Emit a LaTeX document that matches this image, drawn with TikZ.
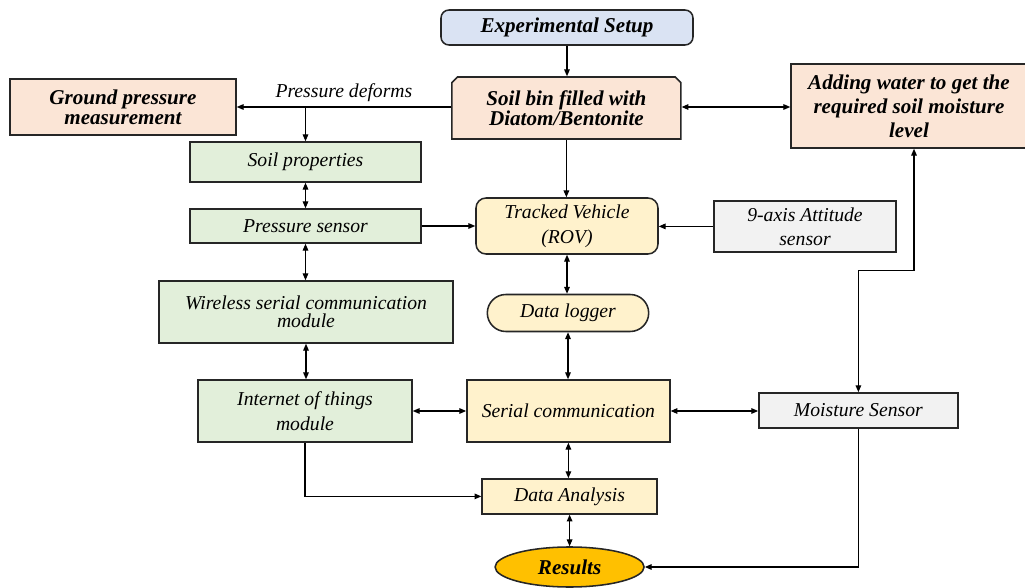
\documentclass[tikz,border=0pt]{standalone}
\usepackage{fontspec}
\setmainfont{Liberation Serif}
\usetikzlibrary{arrows.meta,shapes.misc,shapes.geometric}
\definecolor{setupblue}{HTML}{DAE3F3}
\definecolor{soilpeach}{HTML}{FBE5D6}
\definecolor{sensgreen}{HTML}{E2EFDA}
\definecolor{rovyellow}{HTML}{FFF2CC}
\definecolor{sensgray}{HTML}{F2F2F2}
\definecolor{resgold}{HTML}{FFC000}
\definecolor{edgeline}{HTML}{262626}
\tikzset{
  blk/.style={draw=edgeline, line width=1.1pt, align=center, inner sep=2pt,
    font=\fontsize{14}{15}\selectfont\itshape},
  bolder/.style={font=\fontsize{15}{14}\selectfont\bfseries\itshape},
  oneway/.style={draw=black, line width=0.8pt, -{Triangle[length=1.7mm,width=1.4mm]}},
  twoway/.style={oneway, {Triangle[length=1.7mm,width=1.4mm]}-{Triangle[length=1.7mm,width=1.4mm]}},
}

\begin{document}
\begin{tikzpicture}
  \useasboundingbox (0,0) rectangle (25.625,-14.7);
  % top row
  \node[blk, bolder, fill=setupblue, rounded corners=0.2cm, minimum width=6.3cm, minimum height=0.875cm]
    (setup) at (14.175,-0.6875) {Experimental Setup};
  \node[blk, bolder, fill=soilpeach, chamfered rectangle, chamfered rectangle corners={north west,north east},
    chamfered rectangle sep=2pt, minimum width=5.725cm, minimum height=1.55cm]
    (soilbin) at (14.16,-2.7) {Soil bin filled with\\Diatom/Bentonite};
  \node[blk, bolder, fill=soilpeach, minimum width=5.65cm, minimum height=1.4cm]
    (ground) at (3.075,-2.675) {Ground pressure\\measurement};
  \node[blk, bolder, fill=soilpeach, font=\fontsize{15}{17}\selectfont\bfseries\itshape,
    minimum width=5.9cm, minimum height=2.1cm]
    (water) at (22.725,-2.65) {Adding water to get the\\required soil moisture\\level};
  % left column
  \node[blk, fill=sensgreen, minimum width=5.775cm, minimum height=1cm] (soilprop) at (7.6375,-4.05) {Soil properties};
  \node[blk, fill=sensgreen, minimum width=5.775cm, minimum height=0.85cm] (psensor) at (7.6375,-5.65) {Pressure sensor};
  \node[blk, fill=sensgreen, font=\fontsize{14}{13}\selectfont\itshape, minimum width=7.35cm, minimum height=1.55cm]
    (wireless) at (7.65,-7.8) {Wireless serial communication\\module};
  \node[blk, fill=sensgreen, font=\fontsize{14}{18}\selectfont\itshape, minimum width=5.35cm, minimum height=1.55cm]
    (iot) at (7.625,-10.275) {Internet of things\\module};
  % middle column
  \node[blk, fill=rovyellow, rounded corners=0.25cm, font=\fontsize{14}{18}\selectfont\itshape,
    minimum width=4.55cm, minimum height=1.4cm] (rov) at (14.175,-5.65) {Tracked Vehicle\\(ROV)};
  \node[blk, fill=rovyellow, rounded rectangle, minimum width=4.175cm, minimum height=0.925cm]
    (logger) at (14.2,-7.825) {Data logger};
  \node[blk, fill=rovyellow, minimum width=5.075cm, minimum height=1.55cm] (serial) at (14.21,-10.275) {Serial communication};
  \node[blk, fill=rovyellow, minimum width=4.375cm, minimum height=0.875cm] (analysis) at (14.24,-12.41) {Data Analysis};
  \node[blk, bolder, fill=resgold, ellipse, inner sep=0pt, minimum width=3.725cm, minimum height=1cm]
    (results) at (14.24,-14.175) {Results};
  % right column
  \node[blk, fill=sensgray, font=\fontsize{14}{17}\selectfont\itshape, minimum width=4.55cm, minimum height=1.275cm]
    (attitude) at (20.125,-5.66) {9-axis Attitude\\sensor};
  \node[blk, fill=sensgray, minimum width=4.975cm, minimum height=0.875cm] (moisture) at (21.46,-10.26) {Moisture Sensor};

  % connectors
  \draw[oneway] (setup.south) -- (setup.south |- soilbin.north);
  \draw[oneway] (soilbin.west |- ground.east) -- node[above, font=\fontsize{14}{15}\selectfont\itshape] (deform) {Pressure deforms} (ground.east);
  \coordinate (split) at (soilprop.north |- ground.east);
  \draw[oneway] (split) -- (soilprop.north);
  \draw[twoway] (soilbin.east |- ground.east) -- (ground.east -| water.west);
  \draw[oneway] (soilbin.south) -- (soilbin.south |- rov.north);
  \draw[twoway] (soilprop.south) -- (psensor.north);
  \draw[twoway] (psensor.south) -- (psensor.south |- wireless.north);
  \draw[twoway] (wireless.south) -- (wireless.south |- iot.north);
  \draw[oneway] (psensor.east) -- (psensor.east -| rov.west);
  \draw[oneway] (attitude.west) -- (attitude.west -| rov.east);
  \draw[twoway] (rov.south) -- (rov.south |- logger.north);
  \draw[twoway] (logger.south) -- (logger.south |- serial.north);
  \draw[twoway] (iot.east) -- (serial.west);
  \draw[twoway] (serial.east) -- (serial.east -| moisture.west);
  \coordinate (wtop) at ([xshift=0.125cm]water.south);
  \draw[twoway] (wtop) -- ++(0,-3.05) -| (moisture.north);
  \draw[twoway] (serial.south) -- (serial.south |- analysis.north);
  \draw[oneway] (iot.south) |- (analysis.west);
  \draw[twoway] (analysis.south) -- (analysis.south |- results.north);
  \draw[oneway] (moisture.south) |- (results.east);
\end{tikzpicture}
\end{document}
